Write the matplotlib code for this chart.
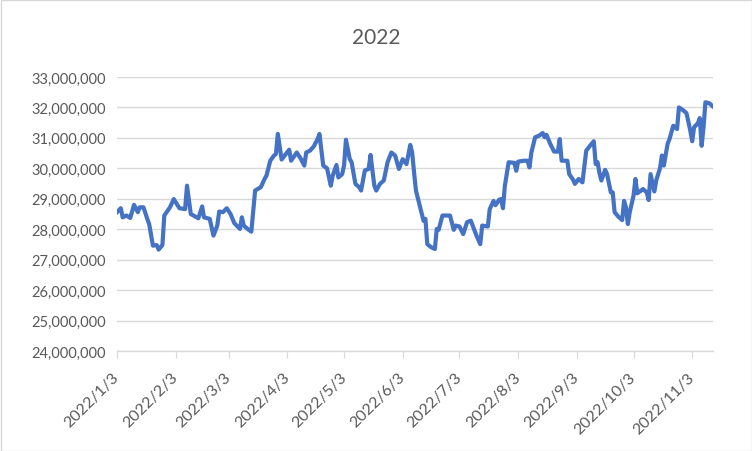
import matplotlib
matplotlib.use('Agg')
import matplotlib.pyplot as plt
from matplotlib.patches import Rectangle
from matplotlib.ticker import FuncFormatter
import pandas as pd

plt.rcParams['font.family'] = ['Lato', 'DejaVu Sans']

# dias desde 2022/1/3 y valores (millones)
days = [0, 2, 3, 5, 7, 9, 11, 12, 14, 16, 17, 19, 21, 22, 24, 25, 28, 30, 33, 36,
        37, 39, 43, 45, 46, 49, 51, 53, 54, 56, 58, 60, 62, 65, 66, 67, 69, 71, 73, 76,
        78, 79, 81, 83, 84, 85, 87, 91, 92, 95, 97, 99, 100, 102, 104, 106, 107, 109, 111, 113,
        114, 116, 117, 119, 120, 121, 123, 124, 126, 128, 129, 131, 133, 134, 136, 137, 139, 141, 143, 145,
        147, 149, 151, 153, 155, 156, 157, 158, 160, 162, 163, 164, 166, 168, 169, 170, 172, 174, 176, 178,
        179, 181, 183, 185, 187, 188, 190, 192, 193, 196, 197, 199, 200, 202, 203, 204, 205, 207, 210, 211,
        212, 215, 217, 218, 219, 221, 223, 225, 226, 227, 229, 231, 233, 234, 235, 238, 239, 241, 242, 244,
        246, 248, 250, 252, 253, 254, 255, 256, 258, 259, 261, 262, 263, 265, 267, 268, 269, 270, 271, 273,
        274, 275, 277, 278, 280, 281, 282, 284, 285, 287, 288, 289, 291, 292, 294, 296, 297, 299, 301, 303,
        304, 305, 307, 308, 309, 310, 311, 313, 315]
values = [28.56, 28.69, 28.39, 28.45, 28.37, 28.80, 28.56, 28.72, 28.72, 28.34, 28.17, 27.46, 27.48, 27.33, 27.48, 28.45, 28.72, 28.99, 28.69, 28.66,
          29.43, 28.50, 28.36, 28.75, 28.39, 28.34, 27.79, 28.12, 28.58, 28.56, 28.69, 28.50, 28.20, 28.01, 28.39, 28.12, 28.01, 27.92, 29.27, 29.38,
          29.65, 29.76, 30.25, 30.42, 30.47, 31.13, 30.29, 30.61, 30.25, 30.52, 30.33, 30.09, 30.52, 30.58, 30.72, 30.96, 31.13, 30.09, 30.00, 29.43,
          29.76, 30.11, 29.70, 29.81, 30.09, 30.94, 30.31, 30.20, 29.49, 29.38, 29.27, 29.93, 29.98, 30.44, 29.43, 29.27, 29.49, 29.60, 30.20, 30.52,
          30.42, 29.98, 30.30, 30.14, 30.77, 30.52, 29.87, 29.27, 28.77, 28.28, 28.34, 27.51, 27.41, 27.35, 28.01, 27.98, 28.45, 28.45, 28.45, 27.98,
          28.12, 28.09, 27.84, 28.23, 28.28, 28.12, 27.79, 27.51, 28.12, 28.09, 28.66, 28.93, 28.79, 28.97, 28.99, 28.69, 29.43, 30.20, 30.18, 29.92,
          30.22, 30.25, 30.25, 30.03, 30.52, 31.02, 31.07, 31.16, 31.02, 31.10, 30.80, 30.55, 30.55, 30.96, 30.25, 30.25, 29.81, 29.63, 29.49, 29.65,
          29.54, 30.58, 30.74, 30.89, 30.14, 30.20, 29.84, 29.60, 29.95, 29.81, 29.21, 29.21, 28.56, 28.41, 28.30, 28.93, 28.72, 28.17, 28.56, 29.10,
          29.65, 29.18, 29.27, 29.32, 29.21, 28.96, 29.81, 29.24, 29.60, 30.01, 30.42, 30.09, 30.80, 30.96, 31.40, 31.29, 32.00, 31.92, 31.81, 31.24,
          30.89, 31.35, 31.48, 31.65, 30.74, 31.35, 32.17, 32.14, 32.03]

tick_labels = ['2022/1/3', '2022/2/3', '2022/3/3', '2022/4/3', '2022/5/3', '2022/6/3',
               '2022/7/3', '2022/8/3', '2022/9/3', '2022/10/3', '2022/11/3']

start = pd.Timestamp('2022-01-03')
dates = [start + pd.Timedelta(days=d) for d in days]
serie = [v * 1e6 for v in values]
tick_dates = [pd.Timestamp(t.replace('/', '-')) for t in tick_labels]

gris = '#595959'
rejilla = '#D9D9D9'

fig = plt.figure(figsize=(7.52, 4.52), dpi=100)
ax = fig.add_axes([117 / 752, 1 - 352 / 452, (713 - 117) / 752, (352 - 78) / 452])

ax.plot(dates, serie, color='#4472C4', linewidth=3, solid_joinstyle='round', zorder=3)

ax.set_ylim(24e6, 33e6)
ax.set_yticks([24e6 + i * 1e6 for i in range(10)])
ax.yaxis.set_major_formatter(FuncFormatter(lambda v, p: f'{int(v):,}'))
ax.set_xlim(start, start + pd.Timedelta(days=days[-1]))
ax.set_xticks(tick_dates)
ax.set_xticklabels(tick_labels, rotation=45, ha='right', va='center', rotation_mode='anchor')

ax.grid(axis='y', color=rejilla, linewidth=1)
ax.set_axisbelow(True)
for s in ['top', 'right', 'left']:
    ax.spines[s].set_visible(False)
ax.spines['bottom'].set_color(rejilla)
ax.spines['bottom'].set_linewidth(1)

ax.tick_params(axis='y', length=0, labelsize=10.5, labelcolor=gris, pad=8)
ax.tick_params(axis='x', length=5, color=rejilla, labelsize=11.5, labelcolor=gris, pad=12)

fig.text(0.5, 1 - 38 / 452, '2022', ha='center', va='center', fontsize=15, color=gris)

fig.patches.append(Rectangle((0.5 / 752, 0.5 / 452), 1 - 1 / 752, 1 - 1 / 452, transform=fig.transFigure,
                             fill=False, edgecolor=rejilla, linewidth=1))

plt.savefig('out.png', dpi=100)
